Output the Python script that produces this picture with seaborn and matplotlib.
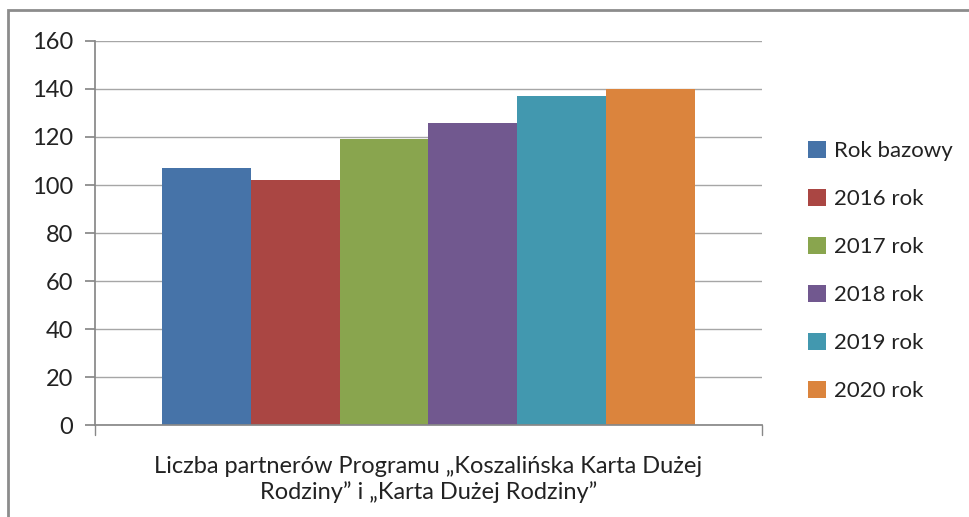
import matplotlib
matplotlib.use("Agg")
import matplotlib.pyplot as plt
import seaborn as sns
import pandas as pd
from matplotlib.patches import Rectangle, Patch

# data
category = "Liczba partnerów Programu „Koszalińska Karta Dużej\nRodziny” i „Karta Dużej Rodziny”"
series = ["Rok bazowy", "2016 rok", "2017 rok", "2018 rok", "2019 rok", "2020 rok"]
values = [107, 102, 119, 126, 137, 140]
colors = ["#4673a8", "#aa4643", "#89a54e", "#71588f", "#4298af", "#db843d"]

df = pd.DataFrame({"cat": [category] * len(series), "series": series, "value": values})

sns.set_theme(style="white")
plt.rcParams["font.family"] = ["Lato", "DejaVu Sans"]

fig = plt.figure(figsize=(9.7, 5.17), dpi=100)
ax = fig.add_axes([95 / 970, 1 - 425 / 517, (762 - 95) / 970, (425 - 41) / 517])

sns.barplot(data=df, x="cat", y="value", hue="series", palette=colors,
            width=0.8, saturation=1, linewidth=0, ax=ax, legend=False)

ax.set_ylim(0, 160)
ax.set_xlim(-0.5, 0.5)
ax.set_yticks(range(0, 161, 20))
ax.yaxis.grid(True, color="#a6a6a6", linewidth=1)
ax.set_axisbelow(True)
for s in ["top", "right"]:
    ax.spines[s].set_visible(False)
ax.spines["left"].set_color("#888888")
ax.spines["bottom"].set_color("#888888")
ax.tick_params(axis="y", left=True, length=7, color="#888888", labelsize=17, pad=9)
ax.tick_params(axis="x", bottom=False, labelsize=17, pad=16)
ax.set_xlabel("")
ax.set_ylabel("")
for lbl in ax.get_xticklabels():
    lbl.set_linespacing(1.25)
    lbl.set_color("#222222")
for lbl in ax.get_yticklabels():
    lbl.set_color("#222222")

# category boundary ticks below the axis
for xv in (-0.5, 0.5):
    ax.plot([xv, xv], [0, -4], color="#888888", linewidth=1, clip_on=False)

handles = [Patch(facecolor=c, edgecolor="none") for c in colors]
fig.legend(handles, series, loc="upper left", bbox_to_anchor=(788 / 970, 1 - 121 / 517),
           frameon=False, fontsize=16, handlelength=0.8, handleheight=0.8,
           handletextpad=0.35, labelspacing=1.25, labelcolor="#222222")

# outer chart frame (partially cropped)
fig.patches.append(Rectangle((8 / 970, -0.1), 1.2, 1 - 10 / 517 + 0.1,
                             transform=fig.transFigure, fill=False,
                             edgecolor="#8c8c8c", linewidth=2))

fig.savefig("out.png", dpi=100)
